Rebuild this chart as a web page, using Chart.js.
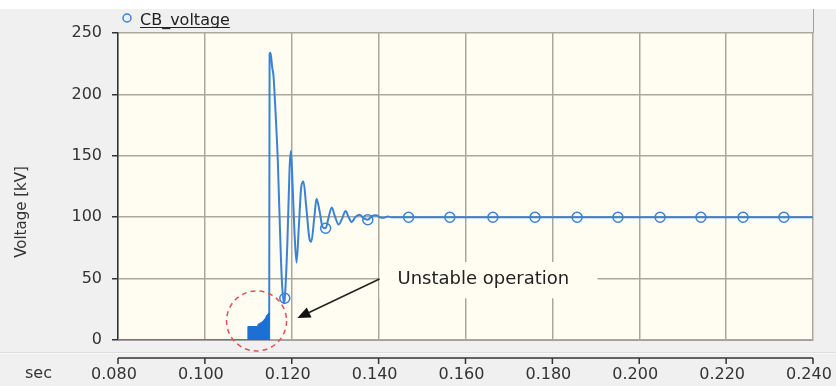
<!DOCTYPE html>
<html>
<head>
<meta charset="utf-8">
<title>CB voltage</title>
<script src="https://cdn.jsdelivr.net/npm/chart.js@4.4.1/dist/chart.umd.min.js"></script>
<style>
  html, body { margin: 0; padding: 0; background: #f0f0f0; }
  #wrap { width: 836px; height: 386px; }
</style>
</head>
<body>
<div id="wrap"><canvas id="cb-chart" width="836" height="386"></canvas></div>
<script>
/* =============================================
   DATA
   ============================================= */
const seriesName = 'CB_voltage';
const yTitle = 'Voltage [kV]';
const xTicks = [0.08, 0.10, 0.12, 0.14, 0.16, 0.18, 0.20, 0.22, 0.24];
const yTicks = [0, 50, 100, 150, 200, 250];

// breaker voltage trace (sec, kV)
const timeSec = [
  0.0800, 0.1099, 0.1148, 0.1149, 0.1151, 0.1155, 0.1158, 0.1162, 0.1168, 0.1172,
  0.1177, 0.1182, 0.1184, 0.1190, 0.1195, 0.1198, 0.1201, 0.1206, 0.1211, 0.1216,
  0.1222, 0.1227, 0.1233, 0.1241, 0.1245, 0.1252, 0.1257, 0.1264, 0.1271, 0.1278,
  0.1285, 0.1292, 0.1300, 0.1308, 0.1316, 0.1324, 0.1331, 0.1338, 0.1346, 0.1356,
  0.1366, 0.1375, 0.1385, 0.1394, 0.1403, 0.1412, 0.1421, 0.1430, 0.1447, 0.1469,
  0.1564, 0.1663, 0.1760, 0.1857, 0.1951, 0.2048, 0.2142, 0.2239, 0.2333, 0.2400
];
const voltageKv = [
  0, 0, 0, 233, 234, 222, 215, 190, 145, 100,
  50, 30, 34, 80, 140, 154, 135, 90, 63, 90,
  125, 129, 110, 82, 80, 100, 115, 105, 92, 91,
  100, 108, 100, 94, 99, 105, 100, 96, 100, 102,
  99, 98, 101, 101.5, 100, 99.5, 100.5, 100, 100, 100,
  100, 100, 100, 100, 100, 100, 100, 100, 100, 100
];
// samples that carry a circle marker
const markerTimes = [
  0.1184, 0.1278, 0.1375, 0.1469, 0.1564, 0.1663, 0.1760,
  0.1857, 0.1951, 0.2048, 0.2142, 0.2239, 0.2333
];

// dense switching burst before the breakdown (drawn as a filled envelope)
const burstTime = [0.1099, 0.1099, 0.1121, 0.1123, 0.1126, 0.1133, 0.1135, 0.1140, 0.1142, 0.1145, 0.1147, 0.1147];
const burstKv   = [0, 11, 11, 13, 13.5, 15, 16, 18, 20, 21, 22, 0];

/* =============================================
   STYLE
   ============================================= */
const LINE_BLUE  = '#3a82d6';
const BURST_BLUE = '#1d6fd6';
const PLOT_BG    = '#fffcf1';
const GRID       = '#aba79d';
const TEXT       = '#333333';
const FONT       = '"DejaVu Sans", sans-serif';

/* =============================================
   PLUGINS
   ============================================= */

/** Window background, legend strip and cream plot area */
const backdrop = {
  id: 'backdrop',
  beforeDraw(chart) {
    const { ctx, chartArea: a, width, height } = chart;
    ctx.save();
    ctx.fillStyle = '#f0f0f0';
    ctx.fillRect(0, 0, width, height);
    ctx.fillStyle = '#ffffff';
    ctx.fillRect(0, 0, width, 9);
    ctx.fillStyle = PLOT_BG;
    ctx.fillRect(a.left, a.top, a.right - a.left, a.bottom - a.top);
    ctx.restore();
  }
};

/** Legend entry: hollow circle + underlined name, plus y title */
const legendStrip = {
  id: 'legendStrip',
  afterDraw(chart) {
    const { ctx, chartArea: a } = chart;
    ctx.save();
    ctx.strokeStyle = '#a0a0a0';
    ctx.lineWidth = 1;
    ctx.beginPath();
    ctx.moveTo(a.right + 0.5, 9);
    ctx.lineTo(a.right + 0.5, a.top);
    ctx.stroke();

    ctx.strokeStyle = LINE_BLUE;
    ctx.lineWidth = 1.5;
    ctx.beginPath();
    ctx.arc(127, 18, 4, 0, Math.PI * 2);
    ctx.stroke();

    ctx.font = '16px ' + FONT;
    ctx.fillStyle = '#222';
    ctx.textBaseline = 'alphabetic';
    ctx.fillText(seriesName, 140, 25);
    const w = ctx.measureText(seriesName).width;
    ctx.strokeStyle = '#222';
    ctx.lineWidth = 1;
    ctx.beginPath();
    ctx.moveTo(140, 27.5);
    ctx.lineTo(140 + w, 27.5);
    ctx.stroke();

    // rotated axis title
    ctx.translate(22, 212);
    ctx.rotate(-Math.PI / 2);
    ctx.font = '15px ' + FONT;
    ctx.fillStyle = TEXT;
    ctx.textAlign = 'center';
    ctx.textBaseline = 'middle';
    ctx.fillText(yTitle, 0, 0);
    ctx.restore();
  }
};

/** Detached time axis line with downward ticks */
const timeAxis = {
  id: 'timeAxis',
  afterDraw(chart) {
    const { ctx, chartArea: a, scales: { x } } = chart;
    const yLine = 358;
    ctx.save();
    ctx.lineWidth = 1;
    ctx.strokeStyle = '#dcdcdc';
    ctx.beginPath();
    ctx.moveTo(0, 352.5);
    ctx.lineTo(chart.width, 352.5);
    ctx.stroke();
    ctx.strokeStyle = '#fbfbfb';
    ctx.beginPath();
    ctx.moveTo(0, 353.5);
    ctx.lineTo(chart.width, 353.5);
    ctx.stroke();

    ctx.strokeStyle = '#333';
    ctx.lineWidth = 1.5;
    ctx.beginPath();
    ctx.moveTo(a.left, yLine);
    ctx.lineTo(a.right, yLine);
    xTicks.forEach(v => {
      const px = x.getPixelForValue(v);
      ctx.moveTo(px, yLine);
      ctx.lineTo(px, yLine + 6);
    });
    ctx.stroke();

    ctx.font = '16px ' + FONT;
    ctx.fillStyle = TEXT;
    ctx.textBaseline = 'middle';
    ctx.fillText('sec', 25, 374);
    ctx.restore();
  }
};

/** Callout: label, arrow and dashed ring around the burst */
const callout = {
  id: 'callout',
  afterDatasetsDraw(chart) {
    const { ctx, scales: { x, y } } = chart;
    ctx.save();

    // label box hides the grid behind the text
    const bx0 = x.getPixelForValue(0.1402), bx1 = x.getPixelForValue(0.1904);
    const by0 = y.getPixelForValue(63.5),  by1 = y.getPixelForValue(34);
    ctx.fillStyle = PLOT_BG;
    ctx.fillRect(bx0, by0, bx1 - bx0, by1 - by0);
    ctx.font = '18px ' + FONT;
    ctx.fillStyle = '#222';
    ctx.textBaseline = 'middle';
    ctx.fillText('Unstable operation', bx0 + 18, y.getPixelForValue(49));

    // arrow
    const x0 = bx0, y0 = y.getPixelForValue(49.7);
    const x1 = x.getPixelForValue(0.1213), y1 = y.getPixelForValue(17.9);
    const ang = Math.atan2(y1 - y0, x1 - x0);
    ctx.strokeStyle = '#222';
    ctx.lineWidth = 1.5;
    ctx.beginPath();
    ctx.moveTo(x0, y0);
    ctx.lineTo(x1 - 10 * Math.cos(ang), y1 - 10 * Math.sin(ang));
    ctx.stroke();
    ctx.fillStyle = '#111';
    ctx.beginPath();
    ctx.moveTo(x1, y1);
    ctx.lineTo(x1 - 13 * Math.cos(ang) + 5.5 * Math.sin(ang), y1 - 13 * Math.sin(ang) - 5.5 * Math.cos(ang));
    ctx.lineTo(x1 - 13 * Math.cos(ang) - 5.5 * Math.sin(ang), y1 - 13 * Math.sin(ang) + 5.5 * Math.cos(ang));
    ctx.closePath();
    ctx.fill();

    // dashed ring
    ctx.strokeStyle = '#e0505a';
    ctx.lineWidth = 1.5;
    ctx.setLineDash([5, 4]);
    ctx.beginPath();
    ctx.arc(x.getPixelForValue(0.1119), y.getPixelForValue(15.5), 30, 0, Math.PI * 2);
    ctx.stroke();
    ctx.restore();
  }
};

/* =============================================
   CHART
   ============================================= */
const tracePoints = timeSec.map((t, i) => ({ x: t, y: voltageKv[i] }));
const burstPoints = burstTime.map((t, i) => ({ x: t, y: burstKv[i] }));

new Chart(document.getElementById('cb-chart'), {
  type: 'scatter',
  data: {
    datasets: [
      {
        label: seriesName,
        data: tracePoints,
        showLine: true,
        borderColor: LINE_BLUE,
        borderWidth: 2,
        cubicInterpolationMode: 'monotone',
        pointStyle: 'circle',
        pointRadius: ctx => markerTimes.includes(timeSec[ctx.dataIndex]) ? 5 : 0,
        pointBorderColor: LINE_BLUE,
        pointBorderWidth: 1.5,
        pointBackgroundColor: 'rgba(0,0,0,0)',
        order: 1
      },
      {
        label: 'burst',
        data: burstPoints,
        showLine: true,
        fill: 'origin',
        borderColor: BURST_BLUE,
        backgroundColor: BURST_BLUE,
        borderWidth: 1,
        pointRadius: 0,
        tension: 0,
        order: 0
      }
    ]
  },
  options: {
    responsive: false,
    animation: false,
    devicePixelRatio: 1,
    layout: { padding: { top: 33, right: 23, left: 0, bottom: 0 } },
    plugins: {
      legend: { display: false },
      tooltip: { enabled: false }
    },
    scales: {
      x: {
        type: 'linear',
        min: 0.08,
        max: 0.24,
        afterBuildTicks: s => { s.ticks = xTicks.map(v => ({ value: v })); },
        afterFit: s => { s.height = 46; s.paddingLeft = 0; s.paddingRight = 0; },
        grid: { color: GRID, lineWidth: 1.5, drawTicks: false },
        border: { display: true, color: '#a0a0a0', width: 1 },
        ticks: {
          padding: 25,
          labelOffset: -4,
          color: TEXT,
          font: { family: FONT, size: 16 },
          maxRotation: 0,
          callback: v => v.toFixed(3)
        }
      },
      y: {
        min: 0,
        max: 250,
        afterBuildTicks: s => { s.ticks = yTicks.map(v => ({ value: v })); },
        afterFit: s => { s.width = 118; },
        grid: { color: GRID, lineWidth: 1.5, tickColor: '#333', tickLength: 6 },
        border: { display: true, color: '#333', width: 1.5 },
        ticks: {
          padding: 10,
          color: TEXT,
          font: { family: FONT, size: 16 }
        }
      }
    }
  },
  plugins: [backdrop, callout, legendStrip, timeAxis]
});
</script>
</body>
</html>
